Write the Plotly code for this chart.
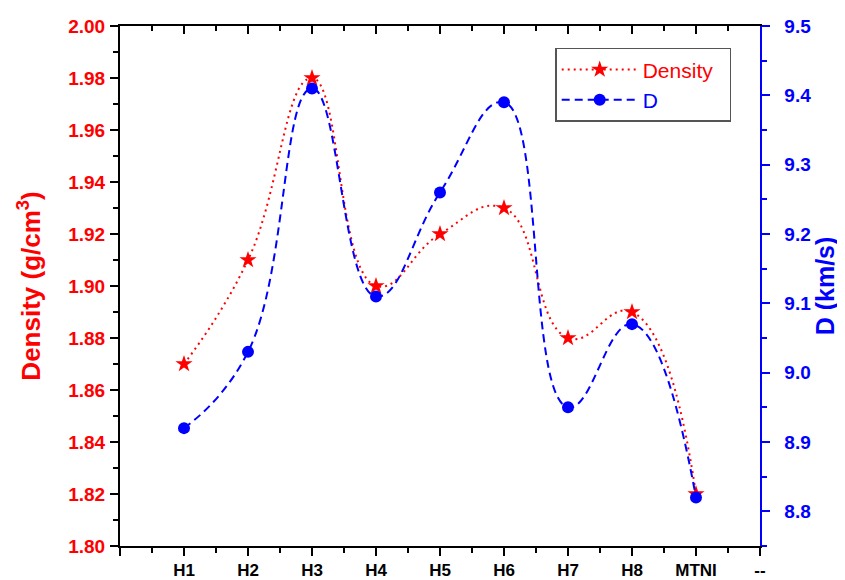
import plotly.graph_objects as go

categories = ["H1", "H2", "H3", "H4", "H5", "H6", "H7", "H8", "MTNI"]
x_pos = [1, 2, 3, 4, 5, 6, 7, 8, 9]
density = [1.87, 1.91, 1.98, 1.90, 1.92, 1.93, 1.88, 1.89, 1.82]
detonation = [8.92, 9.03, 9.41, 9.11, 9.26, 9.39, 8.95, 9.07, 8.82]
tick_vals = [0, 1, 2, 3, 4, 5, 6, 7, 8, 9, 10]
tick_text = [""] + categories + ["--"]
minor_vals = [0.5, 1.5, 2.5, 3.5, 4.5, 5.5, 6.5, 7.5, 8.5, 9.5]

FONT = "Liberation Sans, Arial, sans-serif"
RED = "#ff0000"
BLUE = "#0000ff"

fig = go.Figure()
fig.add_trace(go.Scatter(
    x=x_pos, y=density, mode="lines+markers",
    name='<span style="color:#ff0000">Density</span>\u00a0\u00a0',
    line=dict(color=RED, width=2, dash="2px,4px", shape="spline", smoothing=1.3),
    marker=dict(symbol="star", size=13, color=RED),
    yaxis="y", xaxis="x",
))
fig.add_trace(go.Scatter(
    x=x_pos, y=detonation, mode="lines+markers",
    name='<span style="color:#0000ff">D</span>',
    line=dict(color=BLUE, width=2, dash="8px,5px", shape="spline", smoothing=1.3),
    marker=dict(symbol="circle", size=12, color=BLUE),
    yaxis="y2", xaxis="x",
))
# invisible trace to hold the top mirror axis
fig.add_trace(go.Scatter(x=[0, 10], y=[1.8, 1.8], xaxis="x2", yaxis="y",
                         mode="markers", marker=dict(opacity=0), showlegend=False,
                         hoverinfo="skip"))

# the page body adds an 8px offset, so the figure is 8px smaller
fig.update_layout(
    width=837, height=572,
    margin=dict(l=112, r=85, t=18, b=34, autoexpand=False),
    paper_bgcolor="white", plot_bgcolor="white",
    font=dict(family=FONT, size=15, color="black"),
    showlegend=True,
    legend=dict(x=0.68, y=0.958, xanchor="left", yanchor="top",
                bordercolor="#555555", borderwidth=1.5, bgcolor="white",
                font=dict(family=FONT, size=21),
                itemwidth=76, tracegroupgap=0),
    xaxis=dict(
        range=[0, 10], tickmode="array", tickvals=tick_vals, ticktext=tick_text,
        ticks="outside", ticklen=8, tickwidth=2, tickcolor="black",
        showline=True, linecolor="black", linewidth=2,
        showgrid=False, zeroline=False, automargin=False,
        tickfont=dict(family=FONT, size=17, color="black", weight="bold"),
        minor=dict(tickvals=minor_vals,
                   ticks="outside", ticklen=5, tickwidth=2, tickcolor="black"),
        anchor="y",
    ),
    xaxis2=dict(
        range=[0, 10], overlaying="x", side="top", anchor="y",
        tickmode="array", tickvals=tick_vals, showticklabels=False,
        ticks="inside", ticklen=8, tickwidth=2, tickcolor="black",
        showline=True, linecolor="black", linewidth=2,
        showgrid=False, zeroline=False, automargin=False,
        minor=dict(tickvals=minor_vals,
                   ticks="inside", ticklen=5, tickwidth=2, tickcolor="black"),
    ),
    yaxis=dict(
        range=[1.80, 2.00], tickmode="linear", tick0=1.80, dtick=0.02,
        tickformat=".2f",
        ticks="outside", ticklen=8, tickwidth=2, tickcolor="black",
        showline=True, linecolor="black", linewidth=2,
        showgrid=False, zeroline=False, automargin=False,
        ticklabelstandoff=1,
        tickfont=dict(family=FONT, size=19, color=RED, weight="bold"),
        minor=dict(dtick=0.01, tick0=1.80, ticks="outside", ticklen=5,
                   tickwidth=2, tickcolor="black"),
        title=dict(text="Density (g/cm<sup>3</sup>)", standoff=20,
                   font=dict(family=FONT, size=26, color=RED, weight="bold")),
    ),
    yaxis2=dict(
        range=[8.75, 9.50], overlaying="y", side="right", anchor="x",
        tickmode="linear", tick0=8.8, dtick=0.1, tickformat=".1f",
        tickprefix="\u00a0\u00a0",
        ticks="outside", ticklen=8, tickwidth=2, tickcolor=BLUE,
        showline=True, linecolor=BLUE, linewidth=2,
        showgrid=False, zeroline=False, automargin=False,
        tickfont=dict(family=FONT, size=19, color=BLUE, weight="bold"),
        minor=dict(dtick=0.05, tick0=8.75, ticks="outside", ticklen=5,
                   tickwidth=2, tickcolor=BLUE),
        title=dict(text="D (km/s)", standoff=4,
                   font=dict(family=FONT, size=25, color=BLUE, weight="bold")),
    ),
)

fig.write_html("out.html")
